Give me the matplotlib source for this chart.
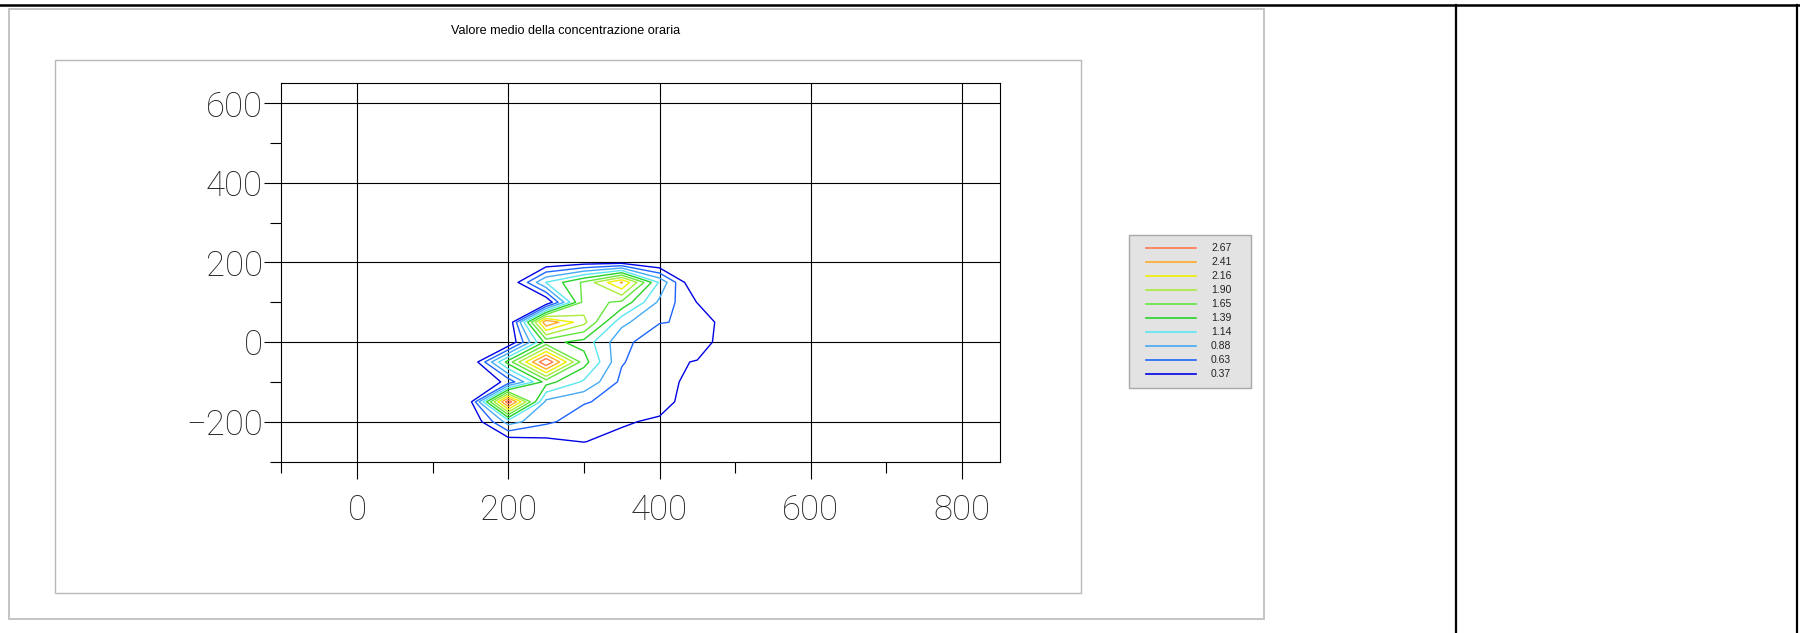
import numpy as np
import matplotlib
matplotlib.use("Agg")
import matplotlib.pyplot as plt
from matplotlib.lines import Line2D
from matplotlib.patches import Rectangle
from matplotlib.ticker import FixedLocator, FixedFormatter

# ---------------- data ----------------
title = "Valore medio della concentrazione oraria"

x_coords = [150, 200, 250, 300, 350, 400, 450, 500]
y_coords = [200, 150, 100, 50, 0, -50, -100, -150, -200, -250, -300]

# concentration on the grid (rows follow y_coords, columns follow x_coords)
row_p200 = [0.00, 0.05, 0.15, 0.25, 0.28, 0.10, 0.00, 0.00]
row_p150 = [0.00, 0.10, 1.15, 1.70, 2.44, 1.10, 0.00, 0.00]
row_p100 = [0.00, 0.05, 0.10, 1.75, 1.60, 0.82, 0.36, 0.00]
row_p050 = [0.00, 0.08, 2.63, 1.98, 0.95, 0.64, 0.60, 0.10]
row_000 = [0.00, 0.08, 1.48, 1.30, 0.69, 0.50, 0.55, 0.10]
row_m050 = [0.10, 1.50, 2.92, 1.50, 0.65, 0.45, 0.35, 0.00]
row_m100 = [0.05, 0.45, 1.50, 1.10, 0.57, 0.50, 0.25, 0.00]
row_m150 = [0.30, 2.85, 0.81, 0.65, 0.55, 0.55, 0.10, 0.00]
row_m200 = [0.10, 1.00, 0.68, 0.50, 0.42, 0.30, 0.00, 0.00]
row_m250 = [0.00, 0.20, 0.30, 0.38, 0.25, 0.05, 0.00, 0.00]
row_m300 = [0.00, 0.00, 0.00, 0.00, 0.00, 0.00, 0.00, 0.00]

levels = [0.37, 0.63, 0.88, 1.14, 1.39, 1.65, 1.90, 2.16, 2.41, 2.67]
level_colors = ["#0000e6", "#1e64ff", "#46aaf5", "#5ae6f0", "#28d228",
                "#64e63c", "#aaeb3c", "#f0f000", "#ffaa28", "#ff7850"]

x_ticks = [0, 200, 400, 600, 800]
x_tick_labels = ["0", "200", "400", "600", "800"]
x_minor = [-100, 100, 300, 500, 700]
y_ticks = [-200, 0, 200, 400, 600]
y_tick_labels = ["\u2212200", "0", "200", "400", "600"]
y_minor = [-300, -100, 100, 300, 500]

# ---------------- figure ----------------
W, H = 1800, 633
fig = plt.figure(figsize=(W / 100, H / 100), dpi=100)
fig.patch.set_facecolor("white")


def fx(px):
    return px / W


def fy(py):
    return 1 - py / H


# page decorations (document table borders + plot frames)
fig.add_artist(Rectangle((fx(9), fy(619)), fx(1264) - fx(9), fy(9) - fy(619),
                         transform=fig.transFigure, fill=False,
                         edgecolor="#c4c4c4", linewidth=1.4))
fig.add_artist(Rectangle((fx(55), fy(593)), fx(1081) - fx(55), fy(60) - fy(593),
                         transform=fig.transFigure, fill=False,
                         edgecolor="#b8b8b8", linewidth=1.0))
fig.add_artist(Line2D([0, 1], [fy(5), fy(5)], transform=fig.transFigure,
                      color="black", linewidth=1.8))
fig.add_artist(Line2D([fx(1456), fx(1456)], [fy(5), 0], transform=fig.transFigure,
                      color="black", linewidth=1.6))
fig.add_artist(Line2D([fx(1797), fx(1797)], [fy(5), 0], transform=fig.transFigure,
                      color="black", linewidth=1.6))

fig.text(fx(566), fy(31), title, ha="center", va="center",
         fontsize=9.1, family=["Liberation Sans", "DejaVu Sans"])

# ---------------- axes ----------------
ax_l, ax_r, ax_t, ax_b = 281.4, 999.8, 83.4, 461.5
ax = fig.add_axes([fx(ax_l), fy(ax_b), fx(ax_r) - fx(ax_l), fy(ax_t) - fy(ax_b)])
ax.set_xlim(-100, 850)
ax.set_ylim(-300, 650)

Z = np.array([row_p200, row_p150, row_p100, row_p050, row_000, row_m050,
              row_m100, row_m150, row_m200, row_m250, row_m300])[::-1]
Y = np.array(y_coords)[::-1]
X = np.array(x_coords)
XX, YY = np.meshgrid(X, Y)
ax.contour(XX, YY, Z, levels=levels, colors=level_colors, linewidths=1.0, zorder=3)

ax.xaxis.set_major_locator(FixedLocator(x_ticks))
ax.xaxis.set_major_formatter(FixedFormatter(x_tick_labels))
ax.xaxis.set_minor_locator(FixedLocator(x_minor))
ax.yaxis.set_major_locator(FixedLocator(y_ticks))
ax.yaxis.set_major_formatter(FixedFormatter(y_tick_labels))
ax.yaxis.set_minor_locator(FixedLocator(y_minor))

for lab in ax.get_xticklabels() + ax.get_yticklabels():
    lab.set_fontfamily(["Roboto", "DejaVu Sans"])
    lab.set_fontweight("light")
    lab.set_fontsize(25)
    lab.set_color("#222222")

ax.tick_params(which="major", direction="out", length=12, width=0.8, color="black")
ax.tick_params(which="minor", direction="out", length=8, width=0.8, color="black")
ax.tick_params(axis="x", which="major", pad=11)
ax.tick_params(axis="y", which="major", pad=1.5)
ax.grid(True, which="major", color="black", linewidth=0.8, zorder=1)
ax.set_axisbelow(True)
for sp in ax.spines.values():
    sp.set_color("black")
    sp.set_linewidth(0.8)

# ---------------- legend ----------------
lg_l, lg_t, lg_r, lg_b = 1129, 235, 1251, 388
fig.add_artist(Rectangle((fx(lg_l), fy(lg_b)), fx(lg_r) - fx(lg_l), fy(lg_t) - fy(lg_b),
                         transform=fig.transFigure, facecolor="#e3e3e3",
                         edgecolor="#a8a8a8", linewidth=1.0))
row_y0, row_dy = 248.5, 13.9
for i, (lev, col) in enumerate(zip(levels[::-1], level_colors[::-1])):
    yy = row_y0 + i * row_dy
    fig.add_artist(Line2D([fx(1146), fx(1196)], [fy(yy), fy(yy)],
                          transform=fig.transFigure, color=col, linewidth=1.2))
    fig.text(fx(1211), fy(yy), f"{lev:.2f}", ha="left", va="center",
             fontsize=7.5, family=["Liberation Sans", "DejaVu Sans"], color="#222222")

fig.savefig("out.png", dpi=100, facecolor="white")
